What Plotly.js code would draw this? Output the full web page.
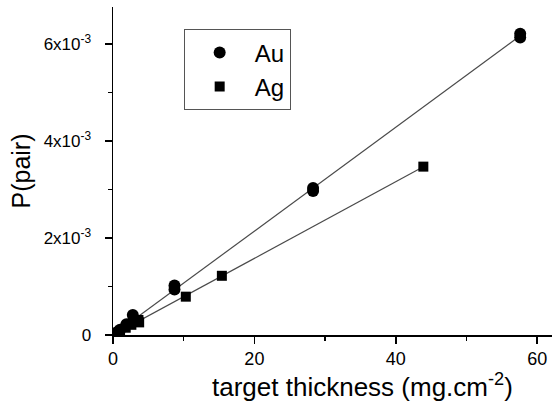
<!DOCTYPE html>
<html>
<head>
<meta charset="utf-8">
<script src="https://cdn.plot.ly/plotly-3.0.1.min.js"></script>
<style>html,body{margin:0;padding:0;background:#fff;}#chart{width:555px;height:410px;}</style>
</head>
<body>
<div id="chart"></div>
<script>
// Data (x: mg/cm^2, y: pair probability)
const auX = [0.5, 1.0, 1.9, 2.8, 2.9, 8.7, 8.7, 28.3, 28.3, 57.6, 57.6];
const auY = [0.05e-3, 0.11e-3, 0.22e-3, 0.41e-3, 0.33e-3, 1.02e-3, 0.94e-3, 3.03e-3, 2.97e-3, 6.21e-3, 6.13e-3];
const agX = [0.4, 1.0, 1.8, 2.6, 3.6, 3.7, 10.3, 15.4, 43.9];
const agY = [0.03e-3, 0.08e-3, 0.15e-3, 0.21e-3, 0.31e-3, 0.26e-3, 0.79e-3, 1.22e-3, 3.47e-3];
const seriesNames = ["Au", "Ag"];
const yTickVals = [0, 0.002, 0.004, 0.006];
const yTickText = ["0", "2x10<sup>-3</sup>", "4x10<sup>-3</sup>", "6x10<sup>-3</sup>"];
const xTickVals = [0, 20, 40, 60];
const xTickText = ["0", "20", "40", "60"];
const xTitle = "target thickness (mg.cm<sup>-2</sup>)";
const yTitle = "P(pair)";

// linear fit through origin, drawn from 0 to the largest x
function fitLine(xs, ys) {
  let sxy = 0, sxx = 0;
  for (let i = 0; i < xs.length; i++) { sxy += xs[i] * ys[i]; sxx += xs[i] * xs[i]; }
  const k = sxy / sxx;
  const xmax = Math.max(...xs);
  return { x: [0, xmax], y: [0, k * xmax] };
}
const auFit = fitLine(auX, auY);
const agFit = fitLine(agX, agY);

const font = "Liberation Sans, Arial, sans-serif";
const lineStyle = { color: "#4a4a4a", width: 1.2 };

const traces = [
  { x: auFit.x, y: auFit.y, mode: "lines", line: lineStyle, showlegend: false, hoverinfo: "skip" },
  { x: agFit.x, y: agFit.y, mode: "lines", line: lineStyle, showlegend: false, hoverinfo: "skip" },
  { x: auX, y: auY, mode: "markers", name: seriesNames[0], marker: { symbol: "circle", size: 12, color: "#000" } },
  { x: agX, y: agY, mode: "markers", name: seriesNames[1], marker: { symbol: "square", size: 10, color: "#000" } }
];

const layout = {
  width: 555, height: 410,
  margin: { l: 113, r: 3, t: 7, b: 75 },
  paper_bgcolor: "#fff", plot_bgcolor: "#fff",
  font: { family: font, color: "#000", size: 18 },
  showlegend: true,
  legend: {
    x: 0.161, y: 0.932, xanchor: "left", yanchor: "top",
    bordercolor: "#555", borderwidth: 1, bgcolor: "#fff",
    font: { family: font, size: 24, color: "#000" },
    itemwidth: 60, tracegroupgap: 4
  },
  xaxis: {
    range: [0, 62.1], showgrid: false, zeroline: false,
    showline: true, linecolor: "#000", linewidth: 1.5,
    ticks: "outside", ticklen: 7, tickwidth: 1.5, tickcolor: "#000",
    tickvals: xTickVals, ticktext: xTickText,
    tickfont: { family: font, size: 18 },
    minor: { dtick: 10, ticks: "outside", ticklen: 4, tickwidth: 1.5, tickcolor: "#000", showgrid: false }
  },
  yaxis: {
    range: [0, 6.76e-3], showgrid: false, zeroline: false,
    showline: true, linecolor: "#000", linewidth: 1.5,
    ticks: "outside", ticklen: 7, tickwidth: 1.5, tickcolor: "#000",
    tickvals: yTickVals, ticktext: yTickText,
    tickfont: { family: font, size: 17 },
    ticklabelstandoff: 10,
    minor: { dtick: 0.001, ticks: "outside", ticklen: 4, tickwidth: 1.5, tickcolor: "#000", showgrid: false },
    title: { text: yTitle, font: { family: font, size: 25 }, standoff: 6 }
  },
  annotations: [
    { text: xTitle, xref: "paper", yref: "paper", x: (362 - 113) / 439, y: (335 - 385) / 328,
      xanchor: "center", yanchor: "middle", showarrow: false,
      font: { family: font, size: 26, color: "#000" } }
  ]
};

Plotly.newPlot("chart", traces, layout, { staticPlot: true, displayModeBar: false });
</script>
</body>
</html>
